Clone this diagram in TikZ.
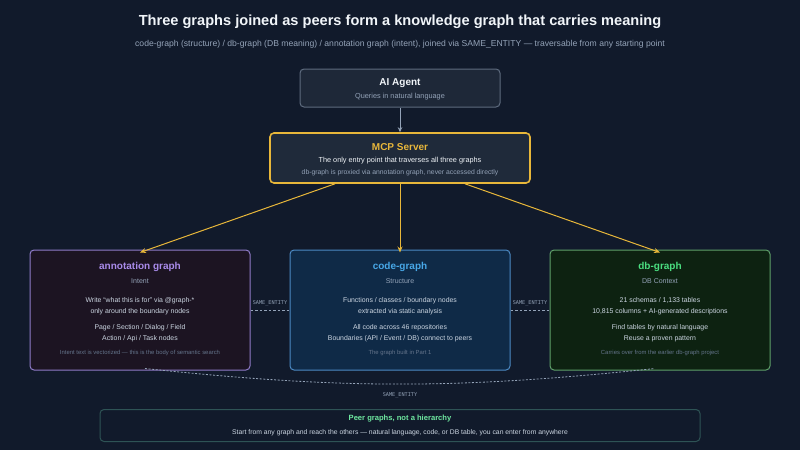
\documentclass[tikz,border=0pt]{standalone}
\usepackage{fontspec}
\setmainfont{Liberation Sans}
\setmonofont{DejaVu Sans Mono}
\usetikzlibrary{arrows.meta}

\definecolor{bgc}{HTML}{111A2B}
\definecolor{agentfill}{HTML}{1E2838}
\definecolor{agentline}{HTML}{5E6B7E}
\definecolor{mcpfill}{HTML}{1F2A3A}
\definecolor{mcpline}{HTML}{E8B73A}
\definecolor{annfill}{HTML}{1C1422}
\definecolor{annline}{HTML}{8F7BC8}
\definecolor{anntext}{HTML}{A98BEA}
\definecolor{codefill}{HTML}{0F2A47}
\definecolor{codeline}{HTML}{4C8AC4}
\definecolor{codetext}{HTML}{48A8E8}
\definecolor{dbfill}{HTML}{0D2211}
\definecolor{dbline}{HTML}{5FA06A}
\definecolor{dbtext}{HTML}{4ADE80}
\definecolor{peerline}{HTML}{2E5355}
\definecolor{peertext}{HTML}{6EE7A0}
\definecolor{txtwhite}{HTML}{F1F5F9}
\definecolor{txtlight}{HTML}{CBD5E1}
\definecolor{txtmid}{HTML}{94A3B8}
\definecolor{txtdim}{HTML}{64748B}

\begin{document}
\begin{tikzpicture}[x=1pt,y=-1pt,
  box/.style={draw,rounded corners=4pt,line width=1pt,inner sep=0pt},
  head/.style={font=\fontsize{10}{12}\selectfont\bfseries},
  sub/.style={font=\fontsize{7}{8.5}\selectfont,text=txtmid},
  body/.style={font=\fontsize{6.9}{10.5}\selectfont,text=txtlight,align=center},
  note/.style={font=\fontsize{5.9}{7}\selectfont,text=txtdim},
  link/.style={draw=txtmid,line width=.8pt,dash pattern=on 2.5pt off 2pt},
  tag/.style={font=\ttfamily\fontsize{5.2}{6}\selectfont,text=txtmid},
  flow/.style={mcpline,line width=1pt,-{Stealth[length=6pt,width=5pt]}}]
  \fill[bgc] (0,0) rectangle (800,450);
  \useasboundingbox (0,0) rectangle (800,450);

  % heading
  \node[font=\fontsize{14.6}{18}\selectfont\bfseries,text=txtwhite] (title) at (400,22)
    {Three graphs joined as peers form a knowledge graph that carries meaning};
  \node[font=\fontsize{8.6}{10}\selectfont,text=txtmid] (subtitle) at (400,44)
    {code-graph (structure) / db-graph (DB meaning) / annotation graph (intent), joined via SAME\_ENTITY — traversable from any starting point};

  % agent and server
  \node[box,draw=agentline,fill=agentfill,minimum width=200,minimum height=38] (agent) at (400,88) {};
  \node[head,text=txtwhite] (agentT) at (400,83) {AI Agent};
  \node[sub,font=\fontsize{7.3}{8.5}\selectfont] (agentS) at (400,97) {Queries in natural language};

  \node[box,draw=mcpline,fill=mcpfill,line width=1.6pt,minimum width=260,minimum height=50] (mcp) at (400,158) {};
  \node[head,text=mcpline] (mcpT) at (400,147) {MCP Server};
  \node[body,font=\fontsize{7.3}{9}\selectfont,text=txtwhite] (mcpA) at (400,161) {The only entry point that traverses all three graphs};
  \node[note,font=\fontsize{6.8}{8}\selectfont,text=txtmid] (mcpB) at (400,173) {db-graph is proxied via annotation graph, never accessed directly};

  % the three graphs
  \node[box,draw=annline,fill=annfill,minimum width=220,minimum height=120] (ann) at (140,310) {};
  \node[head,text=anntext] (annT) at (140,267) {annotation graph};
  \node[sub] (annS) at (140,281) {Intent};
  \node[body] (annA) at (140,306) {Write ``what this is for'' via @graph-*\\only around the boundary nodes};
  \node[body] (annB) at (140,333) {Page / Section / Dialog / Field\\Action / Api / Task nodes};
  \node[note] (annN) at (140,353) {Intent text is vectorized — this is the body of semantic search};

  \node[box,draw=codeline,fill=codefill,minimum width=220,minimum height=120] (code) at (400,310) {};
  \node[head,text=codetext] (codeT) at (400,267) {code-graph};
  \node[sub] (codeS) at (400,281) {Structure};
  \node[body] (codeA) at (400,306) {Functions / classes / boundary nodes\\extracted via static analysis};
  \node[body] (codeB) at (400,333) {All code across 46 repositories\\Boundaries (API / Event / DB) connect to peers};
  \node[note] (codeN) at (400,353) {The graph built in Part 1};

  \node[box,draw=dbline,fill=dbfill,minimum width=220,minimum height=120] (db) at (660,310) {};
  \node[head,text=dbtext] (dbT) at (660,267) {db-graph};
  \node[sub] (dbS) at (660,281) {DB Context};
  \node[body] (dbA) at (660,306) {21 schemas / 1,133 tables\\10,815 columns + AI-generated descriptions};
  \node[body] (dbB) at (660,333) {Find tables by natural language\\Reuse a proven pattern};
  \node[note] (dbN) at (660,353) {Carries over from the earlier db-graph project};

  % connectors
  \draw[txtmid,line width=.9pt,-{Stealth[length=5pt,width=4.5pt]}] (agent) -- (mcp);
  \draw[flow] ([xshift=-65]mcp.south) -- ([yshift=-3]ann.north);
  \draw[flow] (mcp) -- ([yshift=-3]code.north);
  \draw[flow] ([xshift=65]mcp.south) -- ([yshift=-3]db.north);

  \draw[link] (ann) -- node[tag,above=1pt] {SAME\_ENTITY} (code);
  \draw[link] (code) -- node[tag,above=1pt] {SAME\_ENTITY} (db);
  \draw[link,dash pattern=on 2pt off 1.6pt] ([xshift=5,yshift=2]ann.south) to[out=-6,in=186]
    node[tag,below=5pt] {SAME\_ENTITY} ([xshift=-5,yshift=2]db.south);

  % footer
  \node[box,draw=peerline,fill=bgc,minimum width=600,minimum height=32] (peer) at (400,425.5) {};
  \node[font=\fontsize{7.6}{9}\selectfont\bfseries,text=peertext] (peerT) at (400,419) {Peer graphs, not a hierarchy};
  \node[body,font=\fontsize{6.8}{8}\selectfont] (peerS) at (400,433) {Start from any graph and reach the others — natural language, code, or DB table, you can enter from anywhere};
\end{tikzpicture}
\end{document}
